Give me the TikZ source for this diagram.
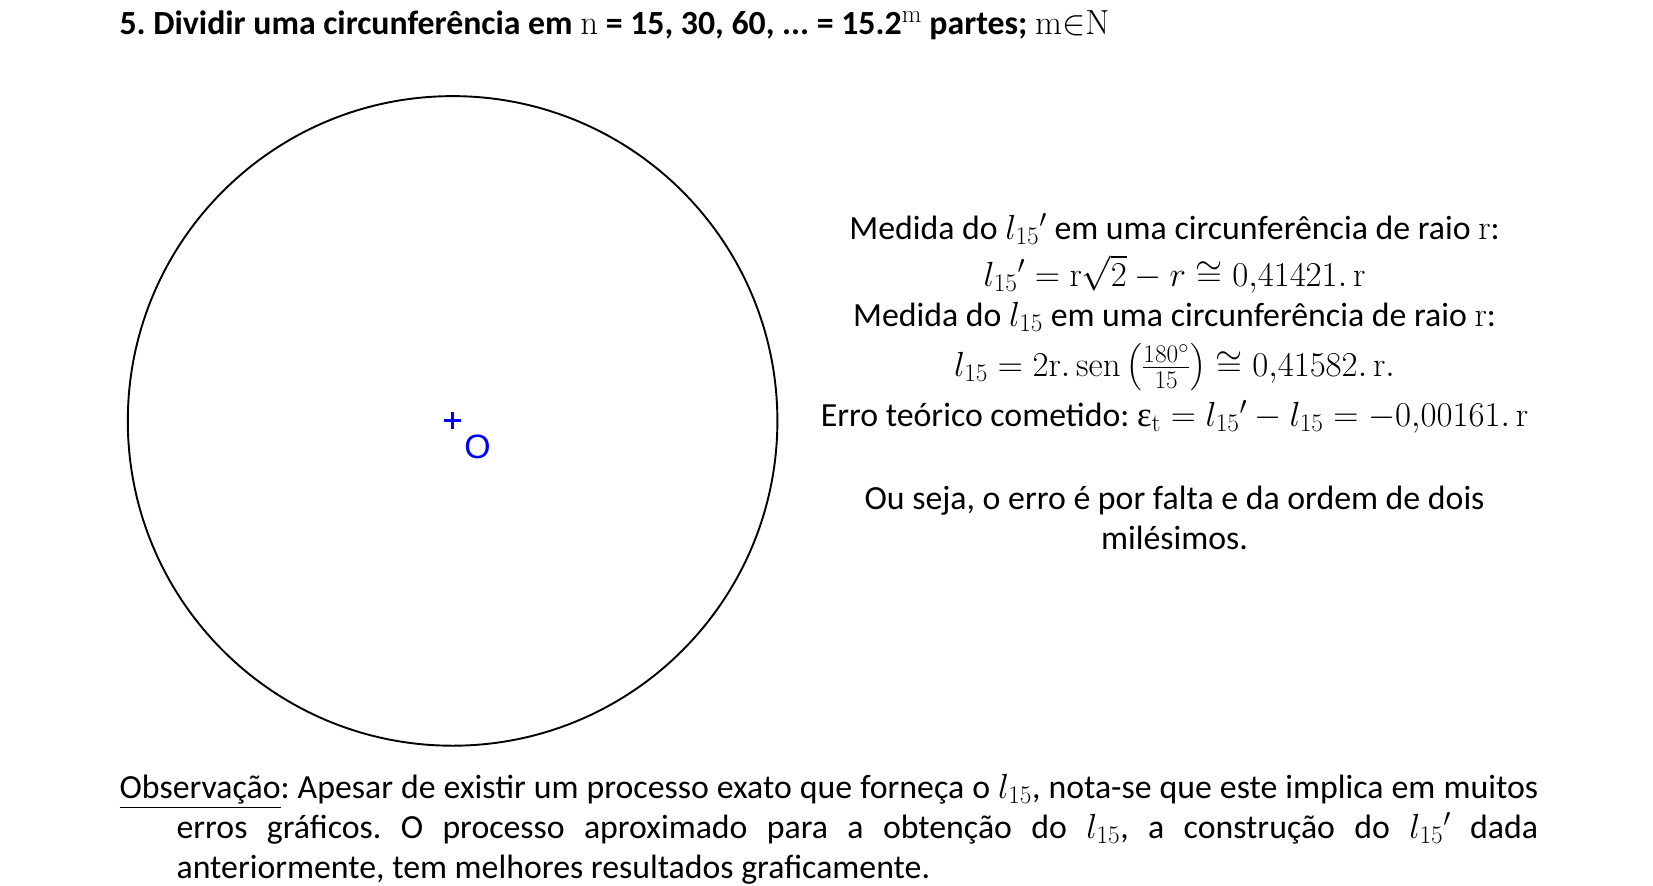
\RequirePackage{fix-cm}
\documentclass[tikz,border=0pt]{standalone}
\usepackage[no-math]{fontspec}
\setmainfont{Carlito}
\newfontfamily\lblfont{Liberation Sans}
\newfontfamily\grkfont{Liberation Serif}
\usepackage{amsmath}
\DeclareMathSizes{33}{33}{24}{19}
\newcommand{\mth}[1]{{\fontsize{33}{33}\selectfont$#1$}}
\newcommand{\ept}{\text{\grkfont ε}_{\mathrm{t}}}
\begin{document}
\frenchspacing
\begin{tikzpicture}[x=1pt,y=-1pt,
  txt/.style={inner sep=0pt, font=\fontsize{32}{38}\selectfont},
  ttl/.style={inner sep=0pt, font=\fontsize{32}{38}\selectfont\bfseries},
  circ/.style={circle, draw=black, line width=1.8pt, inner sep=0pt, minimum size=615pt},
  ctr/.style={draw=blue, line width=2.8pt}]
\useasboundingbox (0,0) rectangle (1565,838);
\node[ttl, anchor=base west] (title) at (113,33) {5. Dividir uma circunferência em {\mdseries\mth{\mathrm{n}}} = 15, 30, 60, ... = 15.2{\mdseries\mth{^{\mathrm{m}}}} partes; {\mdseries\mth{\mathrm{m}{\in}\mathrm{N}}}};
\node[circ] (c) at (428.5,398.5) {};
\draw[ctr] (420,398) -- (436,398) (428,390) -- (428,406);
\node[inner sep=0pt, text=blue, font=\fontsize{32}{38}\selectfont\lblfont] (O) at (452,423) {O};
\node[txt, anchor=base] (l1) at (1112,227) {Medida do \mth{l_{15}{}'} em uma circunferência de raio \mth{\mathrm{r}}:};
\node[txt, anchor=base] (l2) at (1112,271) {\mth{l_{15}{}' = \mathrm{r}\sqrt{2} - r \cong 0{,}41421.\,\mathrm{r}}};
\node[txt, anchor=base] (l3) at (1112,309) {Medida do \mth{l_{15}} em uma circunferência de raio \mth{\mathrm{r}}:};
\node[txt, anchor=base] (l4) at (1112,356) {\mth{l_{15} = 2\mathrm{r}.\,\mathrm{sen}\left(\frac{180^{\circ}}{15}\right) \cong 0{,}41582.\,\mathrm{r}.}};
\node[txt, anchor=base] (l5) at (1112,404) {Erro teórico cometido: \mth{\ept = l_{15}{}' - l_{15} = -0{,}00161.\,\mathrm{r}}};
\node[txt, anchor=base] (l6) at (1112,482) {Ou seja, o erro é por falta e da ordem de dois};
\node[txt, anchor=base] (l7) at (1112,520) {milésimos.};
\node[txt, anchor=base west] (o1) at (113,756) {\makebox[1343pt][s]{\underline{Observação}: Apesar de existir um processo exato que forneça o \mth{l_{15}}, nota-se que este implica em muitos}};
\node[txt, anchor=base west] (o2) at (167,794) {\makebox[1289pt][s]{erros gráficos. O processo aproximado para a obtenção do \mth{l_{15}}, a construção do \mth{l_{15}{}'} dada}};
\node[txt, anchor=base west] (o3) at (167,832) {anteriormente, tem melhores resultados graficamente.};
\end{tikzpicture}
\end{document}
